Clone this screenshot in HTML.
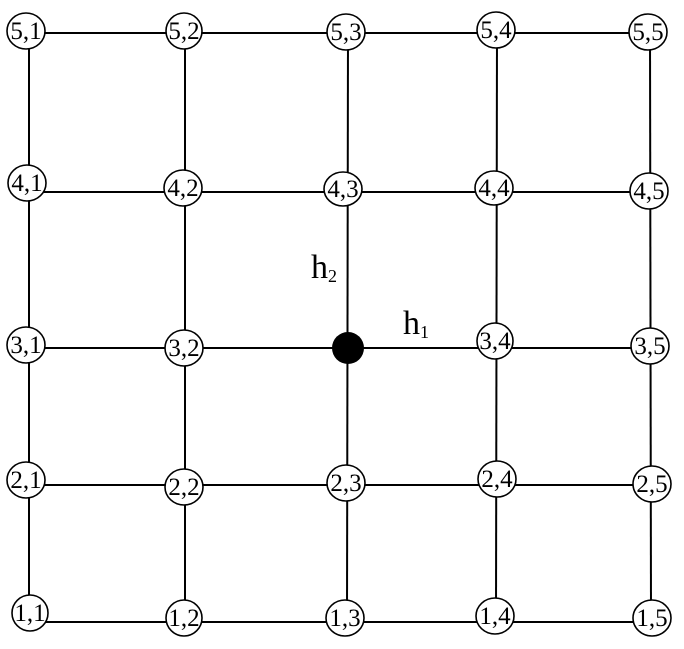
<!DOCTYPE html>
<html><head><style>html,body{margin:0;padding:0;background:#fff}</style></head>
<body>
<svg width="684" height="644" viewBox="0 0 684 644" xmlns="http://www.w3.org/2000/svg" font-family="Liberation Serif, serif">
<g stroke="#000" stroke-width="2" fill="none">
<line x1="26" y1="33" x2="650" y2="33"/>
<line x1="27" y1="192" x2="650" y2="192"/>
<line x1="25" y1="348" x2="650" y2="348"/>
<line x1="24" y1="485" x2="652" y2="485"/>
<line x1="30" y1="622" x2="652" y2="622"/>
<line x1="29" y1="31" x2="29" y2="613"/>
<line x1="185" y1="31" x2="185" y2="618"/>
<line x1="348" y1="31" x2="347" y2="618"/>
<line x1="497" y1="30" x2="496" y2="616"/>
<line x1="650" y1="32" x2="651" y2="618"/>
</g>
<g stroke="#000" stroke-width="1.6" fill="#fff">
<ellipse cx="26" cy="31" rx="19" ry="18"/><ellipse cx="184" cy="31" rx="18" ry="18"/><ellipse cx="346" cy="32" rx="19" ry="18"/><ellipse cx="496" cy="30" rx="19" ry="18"/><ellipse cx="648" cy="32" rx="19" ry="18"/>
<ellipse cx="27" cy="183" rx="19" ry="18"/><ellipse cx="183" cy="188" rx="19" ry="18"/><ellipse cx="343" cy="189" rx="19" ry="17"/><ellipse cx="494" cy="188" rx="19" ry="17"/><ellipse cx="649" cy="191" rx="19" ry="18"/>
<ellipse cx="26" cy="345" rx="19" ry="18"/><ellipse cx="184" cy="348" rx="19" ry="18"/><ellipse cx="495" cy="341" rx="18" ry="18"/><ellipse cx="650" cy="346" rx="19" ry="18"/>
<ellipse cx="26" cy="480" rx="19" ry="18"/><ellipse cx="184" cy="487" rx="19" ry="18"/><ellipse cx="346" cy="483" rx="19" ry="18"/><ellipse cx="497" cy="479" rx="19" ry="18"/><ellipse cx="652" cy="484" rx="19" ry="18"/>
<ellipse cx="30" cy="613" rx="18" ry="18"/><ellipse cx="184" cy="618" rx="18" ry="18"/><ellipse cx="345" cy="618" rx="19" ry="18"/><ellipse cx="495" cy="616" rx="19" ry="18"/><ellipse cx="652" cy="618" rx="19" ry="18"/>
</g>
<circle cx="348" cy="348" r="16" fill="#000"/>
<g font-size="25" text-anchor="middle" fill="#000">
<text x="26" y="39">5,1</text><text x="184" y="39">5,2</text><text x="346" y="40">5,3</text><text x="496" y="38">5,4</text><text x="648" y="40">5,5</text>
<text x="27" y="191">4,1</text><text x="183" y="196">4,2</text><text x="343" y="197">4,3</text><text x="494" y="196">4,4</text><text x="649" y="199">4,5</text>
<text x="26" y="353">3,1</text><text x="184" y="356">3,2</text><text x="495" y="349">3,4</text><text x="650" y="354">3,5</text>
<text x="26" y="488">2,1</text><text x="184" y="495">2,2</text><text x="346" y="491">2,3</text><text x="497" y="487">2,4</text><text x="652" y="492">2,5</text>
<text x="30" y="621">1,1</text><text x="184" y="626">1,2</text><text x="345" y="626">1,3</text><text x="495" y="624">1,4</text><text x="652" y="626">1,5</text>
</g>
<text x="311" y="278" font-size="34">h<tspan font-size="18" dy="4">2</tspan></text>
<text x="403" y="334" font-size="34">h<tspan font-size="18" dy="4">1</tspan></text>
</svg>
</body></html>
